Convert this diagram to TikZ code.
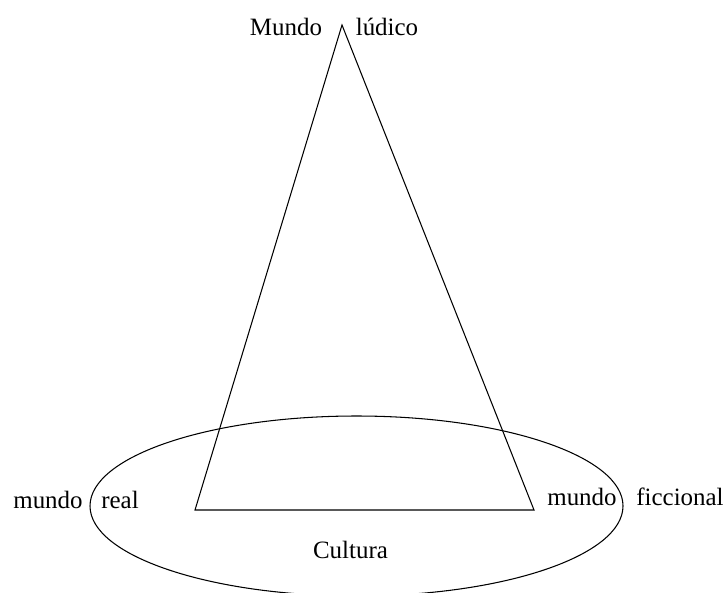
\documentclass[tikz,border=0pt]{standalone}
\usepackage{fontspec}
\setmainfont{Liberation Serif}
\usetikzlibrary{calc}

\begin{document}
\begin{tikzpicture}[x=0.02cm, y=-0.02cm, line width=0.6pt,
    lbl/.style={anchor=base, inner sep=0pt, font=\fontsize{14.2}{17}\selectfont}]
  % page frame (pixel grid, y pointing down)
  \useasboundingbox (0,0) rectangle (726,592);
  % ---------------------------------------------------------------- triangle
  \coordinate (apex) at (342,25);
  \coordinate (bl) at (195,510);
  \coordinate (br) at (534,510);
  \draw (apex) -- (bl) -- (br) -- cycle;
  % ---------------------------------------------------------------- ellipse
  \coordinate (ctr) at (356.5,506);
  \draw (ctr) ellipse [x radius=266.5, y radius=90];
  % ---------------------------------------------------------------- labels
  \node[lbl] (mundo) at (286,35) {Mundo};
  \node[lbl] (ludico) at (387,35) {lúdico};
  \node[lbl] (mreal) at (48,508) {mundo};
  \node[lbl] (real) at (120,508) {real};
  \node[lbl] (mfic) at (582,505) {mundo};
  \node[lbl] (fic) at (680,505) {ficcional};
  \node[lbl] (cultura) at (350.5,558) {Cultura};
\end{tikzpicture}
\end{document}
